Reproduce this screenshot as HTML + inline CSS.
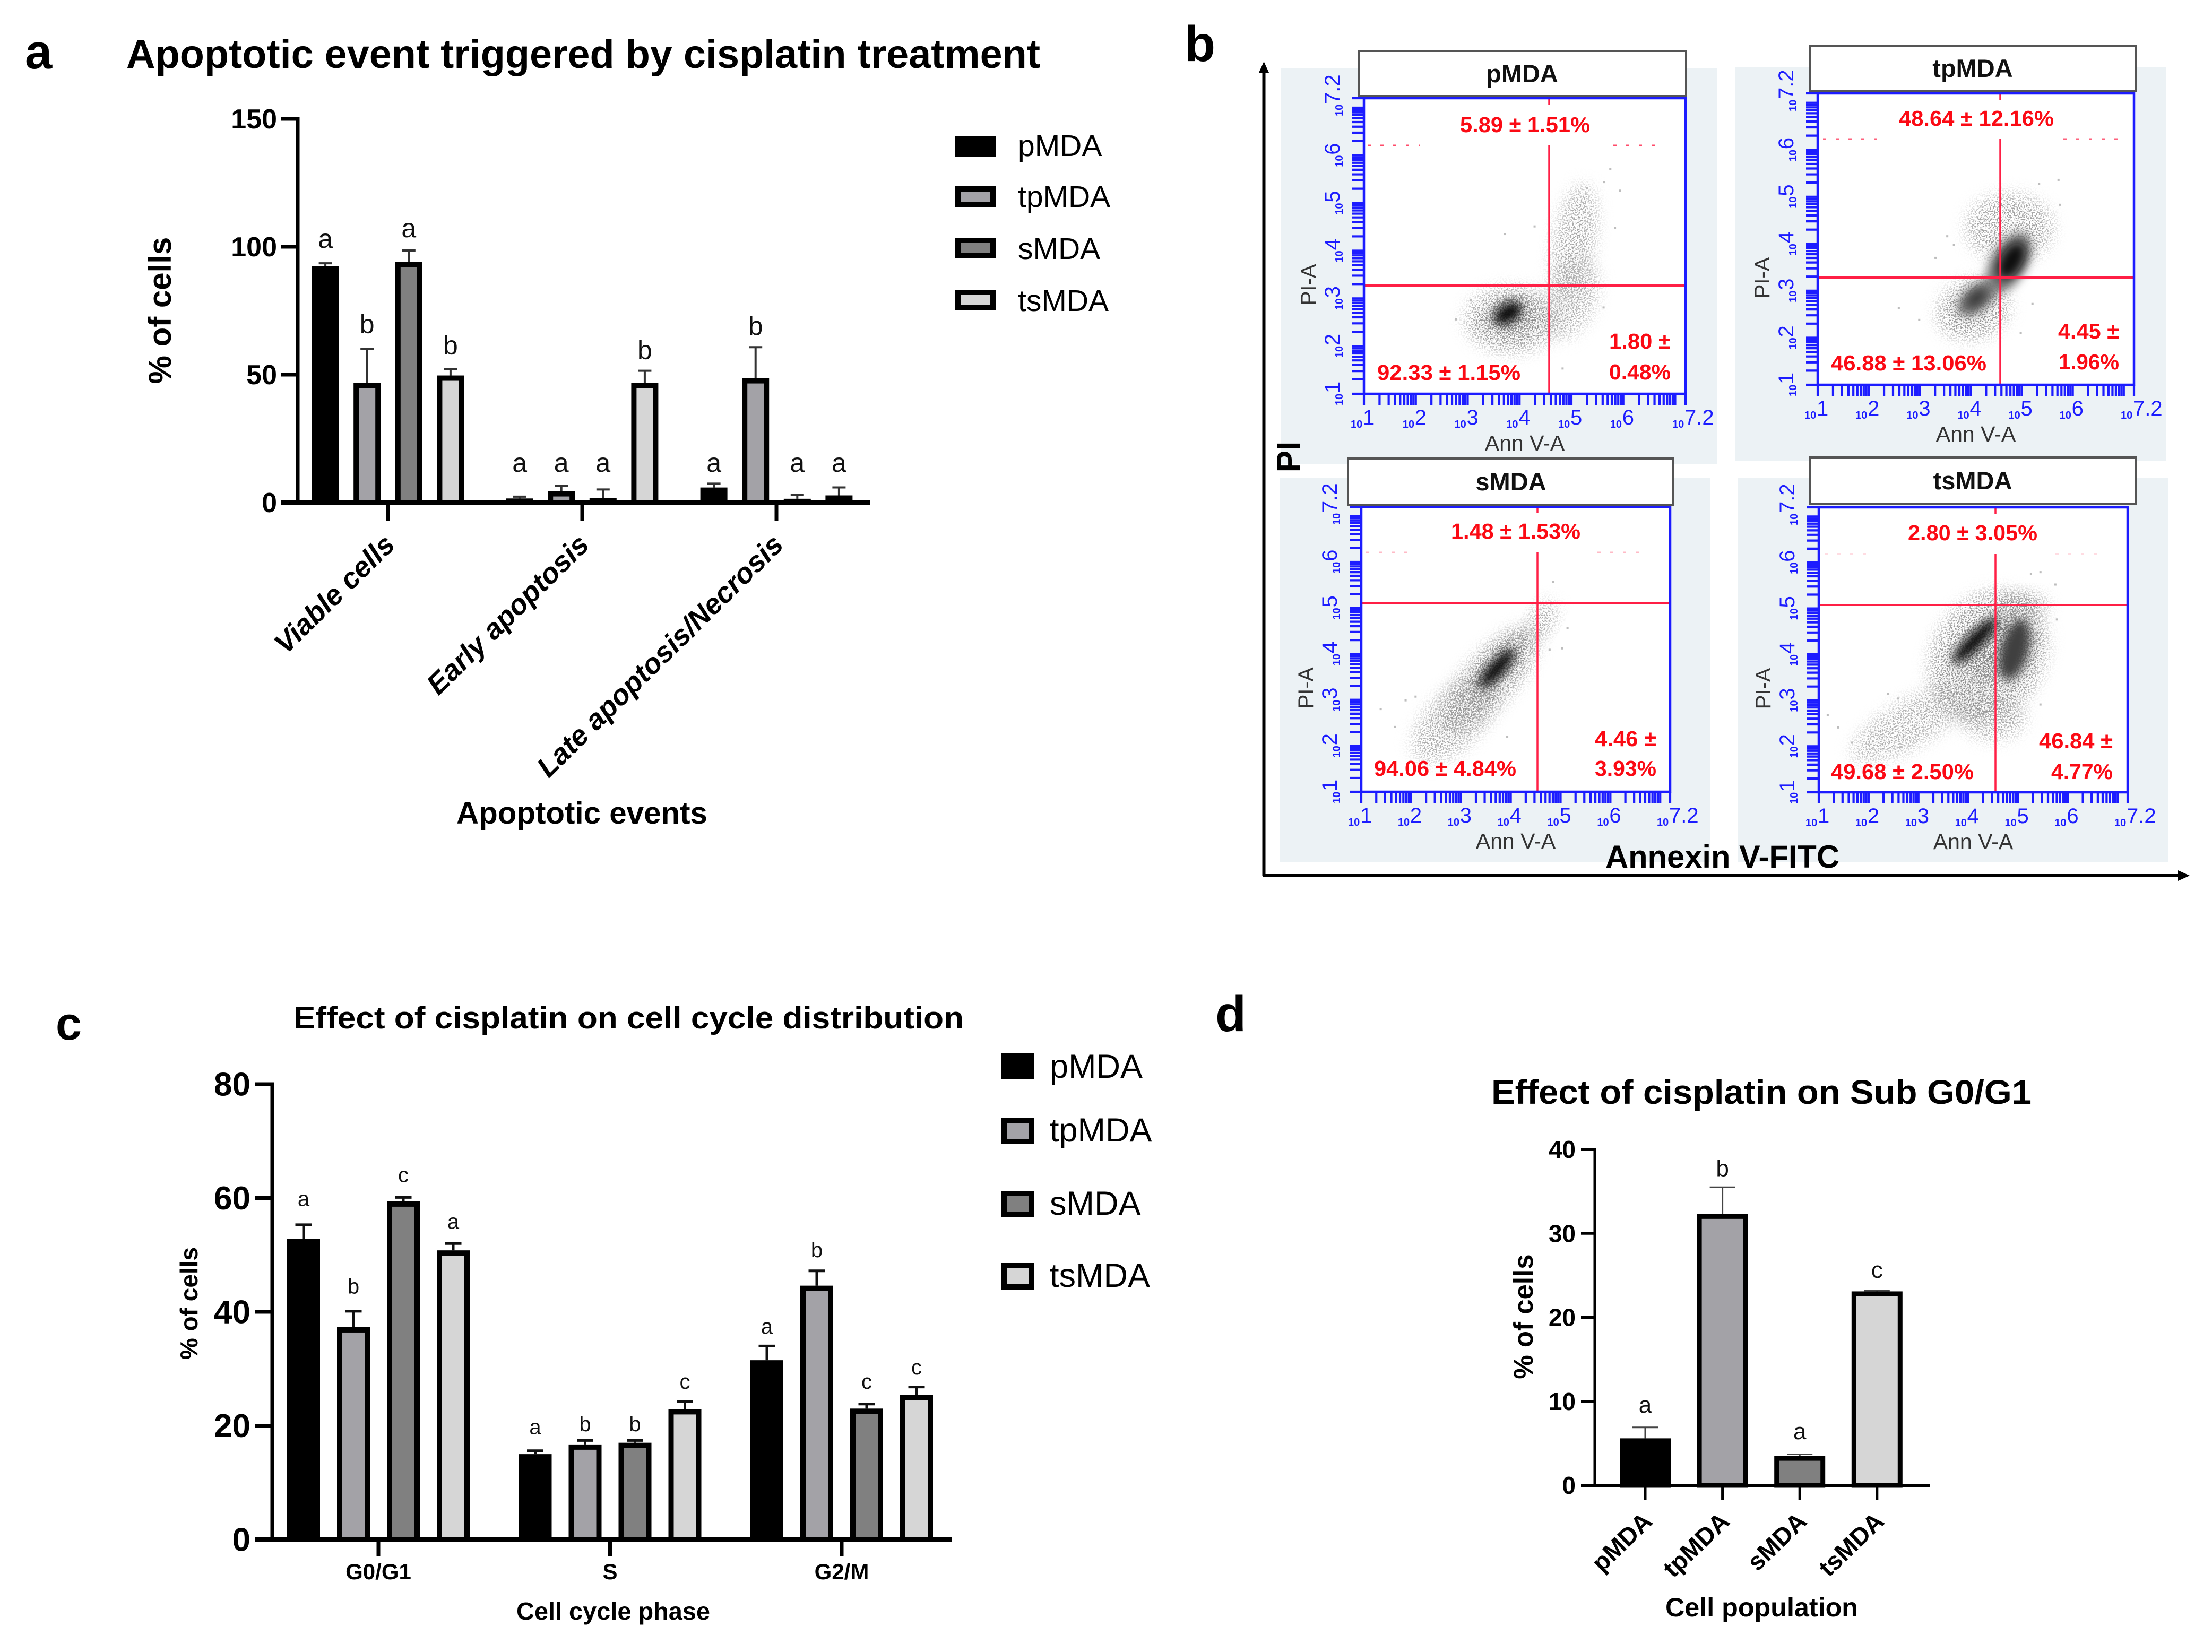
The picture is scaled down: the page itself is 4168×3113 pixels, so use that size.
<!DOCTYPE html>
<html lang="en">
<head>
<meta charset="utf-8">
<title>Apoptosis and cell cycle figure</title>
<style>
html,body{margin:0;padding:0;background:#fff}
svg{display:block}
text{font-family:"Liberation Sans",sans-serif}
.b{font-weight:bold}
.pct{font-weight:bold;font-size:41px;fill:#fb0a14}
.hdr{font-weight:bold;font-size:47px;fill:#111;text-anchor:middle}
.ax{font-size:41px;fill:#333}
</style>
</head>
<body>
<svg id="figure" xmlns="http://www.w3.org/2000/svg" width="4168" height="3113" viewBox="0 0 4168 3113">
  <defs>
    <filter id="soft" x="-40%" y="-40%" width="180%" height="180%"><feGaussianBlur stdDeviation="9"/></filter>
    <filter id="speckle" x="-40%" y="-40%" width="180%" height="180%">
      <feGaussianBlur in="SourceGraphic" stdDeviation="14" result="blurred"/>
      <feTurbulence type="fractalNoise" baseFrequency="0.38" numOctaves="1" seed="7" result="noise"/>
      <feColorMatrix in="noise" type="matrix" values="0 0 0 0 0  0 0 0 0 0  0 0 0 0 0  12 0 0 0 -6.1" result="mask"/>
      <feComposite in="blurred" in2="mask" operator="in"/>
    </filter>
  </defs>
  <rect width="4168" height="3113" fill="#fff"/>

  <!-- Panel letters and titles -->
  <text class="b" x="47" y="129" font-size="92">a</text>
  <text class="b" x="238" y="128" font-size="76" textLength="1722" lengthAdjust="spacingAndGlyphs">Apoptotic event triggered by cisplatin treatment</text>
  <text class="b" x="2232" y="115" font-size="95">b</text>
  <text class="b" x="105" y="1959" font-size="88">c</text>
  <text class="b" x="553" y="1938" font-size="58" textLength="1263" lengthAdjust="spacingAndGlyphs">Effect of cisplatin on cell cycle distribution</text>
  <text class="b" x="2290" y="1943" font-size="95">d</text>
  <text class="b" x="2810" y="2080" font-size="64" textLength="1018" lengthAdjust="spacingAndGlyphs">Effect of cisplatin on Sub G0/G1</text>

  <!-- Axis titles -->
  <text class="b" font-size="60" text-anchor="middle" transform="translate(322 585) rotate(-90)">% of cells</text>
  <text class="b" x="860" y="1552" font-size="58" textLength="473" lengthAdjust="spacingAndGlyphs">Apoptotic events</text>
  <text class="b" font-size="46" text-anchor="middle" transform="translate(372 2456) rotate(-90)">% of cells</text>
  <text class="b" x="973" y="3052" font-size="46" textLength="365" lengthAdjust="spacingAndGlyphs">Cell cycle phase</text>
  <text class="b" font-size="51" text-anchor="middle" transform="translate(2888 2481) rotate(-90)">% of cells</text>
  <text class="b" x="3138" y="3046" font-size="50" textLength="363" lengthAdjust="spacingAndGlyphs">Cell population</text>

  <!-- Legend, panel a -->
  <g>
    <g><rect x="1805" y="261" width="66" height="29" fill="#000" stroke="#000" stroke-width="10"/><text x="1918" y="294" font-size="57">pMDA</text></g>
    <g><rect x="1805" y="356" width="66" height="29" fill="#a3a2a7" stroke="#000" stroke-width="10"/><text x="1918" y="390" font-size="57">tpMDA</text></g>
    <g><rect x="1805" y="453" width="66" height="29" fill="#808080" stroke="#000" stroke-width="10"/><text x="1918" y="488" font-size="57">sMDA</text></g>
    <g><rect x="1805" y="551" width="66" height="29" fill="#d6d6d6" stroke="#000" stroke-width="10"/><text x="1918" y="586" font-size="57">tsMDA</text></g>
  </g>
  <!-- Legend, panel c -->
  <g>
    <g><rect x="1892" y="1989" width="51" height="40" fill="#000" stroke="#000" stroke-width="10"/><text x="1978" y="2031" font-size="63">pMDA</text></g>
    <g><rect x="1892" y="2111" width="51" height="40" fill="#a3a2a7" stroke="#000" stroke-width="10"/><text x="1978" y="2151" font-size="63">tpMDA</text></g>
    <g><rect x="1892" y="2249" width="51" height="40" fill="#808080" stroke="#000" stroke-width="10"/><text x="1978" y="2289" font-size="63">sMDA</text></g>
    <g><rect x="1892" y="2385" width="51" height="40" fill="#d6d6d6" stroke="#000" stroke-width="10"/><text x="1978" y="2425" font-size="63">tsMDA</text></g>
  </g>

  <g id="chart-a"></g>
  <g id="chart-c"></g>
  <g id="chart-d"></g>

  <!-- Panel b tiles -->
  <rect x="2413" y="129" width="822" height="746" fill="#ecf2f5"/>
  <rect x="3269" y="126" width="812" height="743" fill="#ecf2f5"/>
  <rect x="2412" y="901" width="811" height="723" fill="#ecf2f5"/>
  <rect x="3274" y="900" width="812" height="724" fill="#ecf2f5"/>

  <g id="flow-layer"></g>

  <!-- Panel b headers -->
  <g><rect x="2560" y="96" width="617" height="85" fill="#fff" stroke="#555" stroke-width="4"/><text class="hdr" x="2868" y="155">pMDA</text></g>
  <g><rect x="3410" y="86" width="614" height="86" fill="#fff" stroke="#555" stroke-width="4"/><text class="hdr" x="3717" y="145">tpMDA</text></g>
  <g><rect x="2540" y="864" width="613" height="87" fill="#fff" stroke="#555" stroke-width="4"/><text class="hdr" x="2847" y="924">sMDA</text></g>
  <g><rect x="3410" y="862" width="614" height="88" fill="#fff" stroke="#555" stroke-width="4"/><text class="hdr" x="3717" y="922">tsMDA</text></g>

  <!-- Quadrant percentages -->
  <g>
    <text class="pct" x="2751" y="249" textLength="245" lengthAdjust="spacingAndGlyphs">5.89 ± 1.51%</text>
    <text class="pct" x="2595" y="716" textLength="270" lengthAdjust="spacingAndGlyphs">92.33 ± 1.15%</text>
    <text class="pct" x="3032" y="657" textLength="116" lengthAdjust="spacingAndGlyphs">1.80 ±</text>
    <text class="pct" x="3032" y="715" textLength="116" lengthAdjust="spacingAndGlyphs">0.48%</text>
  </g>
  <g>
    <text class="pct" x="3578" y="237" textLength="292" lengthAdjust="spacingAndGlyphs">48.64 ± 12.16%</text>
    <text class="pct" x="3450" y="698" textLength="293" lengthAdjust="spacingAndGlyphs">46.88 ± 13.06%</text>
    <text class="pct" x="3878" y="638" textLength="115" lengthAdjust="spacingAndGlyphs">4.45 ±</text>
    <text class="pct" x="3879" y="696" textLength="114" lengthAdjust="spacingAndGlyphs">1.96%</text>
  </g>
  <g>
    <text class="pct" x="2734" y="1015" textLength="244" lengthAdjust="spacingAndGlyphs">1.48 ± 1.53%</text>
    <text class="pct" x="2589" y="1462" textLength="268" lengthAdjust="spacingAndGlyphs">94.06 ± 4.84%</text>
    <text class="pct" x="3005" y="1406" textLength="116" lengthAdjust="spacingAndGlyphs">4.46 ±</text>
    <text class="pct" x="3005" y="1462" textLength="116" lengthAdjust="spacingAndGlyphs">3.93%</text>
  </g>
  <g>
    <text class="pct" x="3595" y="1018" textLength="244" lengthAdjust="spacingAndGlyphs">2.80 ± 3.05%</text>
    <text class="pct" x="3450" y="1468" textLength="269" lengthAdjust="spacingAndGlyphs">49.68 ± 2.50%</text>
    <text class="pct" x="3842" y="1410" textLength="139" lengthAdjust="spacingAndGlyphs">46.84 ±</text>
    <text class="pct" x="3865" y="1468" textLength="116" lengthAdjust="spacingAndGlyphs">4.77%</text>
  </g>

  <!-- Panel b shared axes -->
  <path d="M2381.5 1650V128" fill="none" stroke="#000" stroke-width="6"/>
  <path d="M2381.5 116l-10 22h20z" fill="#000"/>
  <path d="M2379 1650H4108" fill="none" stroke="#000" stroke-width="6"/>
  <path d="M4126 1650l-22-10v20z" fill="#000"/>
  <text class="b" font-size="62" text-anchor="middle" transform="translate(2449 861) rotate(-90)">PI</text>
  <text class="b" x="3025" y="1635" font-size="60" textLength="441" lengthAdjust="spacingAndGlyphs">Annexin V-FITC</text>

<script>
// ---------- Panel a data ----------
const aCategories = ['Viable cells', 'Early apoptosis', 'Late apoptosis/Necrosis'];
const aTicks = [0, 50, 100, 150];
const aPMDA = [92.33, 1.6, 5.89];
const aTpMDA = [46.88, 4.45, 48.64];
const aSMDA = [94.06, 1.8, 1.48];
const aTsMDA = [49.68, 46.84, 2.8];
const aErrPMDA = [1.2, 0.7, 1.5];
const aErrTpMDA = [13.1, 2.1, 12.1];
const aErrSMDA = [4.5, 3.3, 1.5];
const aErrTsMDA = [2.4, 4.7, 3.1];
const aLetters = [['a','a','a'], ['b','a','b'], ['a','a','a'], ['b','b','a']];
const aLetterHeights = [[99.6,12,12], [66.2,12,65.5], [103.7,12,12], [57.9,56,12]];

// ---------- Panel c data ----------
const cCategories = ['G0/G1', 'S', 'G2/M'];
const cTicks = [0, 20, 40, 60, 80];
const cPMDA = [52.8, 15, 31.5];
const cTpMDA = [37.3, 16.7, 44.6];
const cSMDA = [59.4, 17, 23];
const cTsMDA = [50.8, 22.9, 25.4];
const cErrPMDA = [2.5, 0.6, 2.5];
const cErrTpMDA = [2.8, 0.7, 2.6];
const cErrSMDA = [0.7, 0.4, 0.8];
const cErrTsMDA = [1.2, 1.3, 1.4];
const cLetters = [['a','a','a'], ['b','b','b'], ['c','b','c'], ['a','c','c']];
const cLetterHeights = [[58.6,18.5,36.2], [43.2,19,49.6], [62.8,19,26.5], [54.6,26.5,29]];

// ---------- Panel d data ----------
const dCategories = ['pMDA', 'tpMDA', 'sMDA', 'tsMDA'];
const dTicks = [0, 10, 20, 30, 40];
const dValues = [5.6, 32.3, 3.5, 23.1];
const dErrors = [1.3, 3.2, 0.2, 0.1];
const dLetters = ['a', 'b', 'a', 'c'];
const dLetterHeights = [8.65, 36.8, 5.5, 24.7];

// ---------- Panel b data (log10 units): [logX, logY, major, minor, tilt, density] ----------
const flowDecades = [1, 2, 3, 4, 5, 6, 7.2];
const flowExponents = ['1', '2', '3', '4', '5', '6', '7.2'];
const cloudsPMDA = [
  [5.05, 4.15, 1.15, 0.42, -80, 0.22], [5.0, 3.0, 0.8, 0.5, -70, 0.18],
  [3.85, 2.55, 0.9, 0.68, 0, 0.3], [3.85, 2.62, 0.55, 0.42, -20, 0.42],
  [3.78, 2.69, 0.3, 0.2, -30, 1]
];
const cloudsTpMDA = [
  [4.76, 4.34, 0.85, 0.72, 0, 0.24], [4.05, 2.6, 0.72, 0.62, -20, 0.32],
  [4.12, 2.84, 0.45, 0.28, -40, 0.5], [4.75, 3.6, 0.65, 0.38, -60, 0.48],
  [4.11, 2.84, 0.22, 0.12, -40, 0.8], [4.8, 3.64, 0.38, 0.22, -60, 1]
];
const cloudsSMDA = [
  [2.9, 2.6, 1.1, 0.6, -45, 0.2], [4.62, 4.72, 0.42, 0.25, -60, 0.3],
  [3.57, 3.44, 1.35, 0.55, -48, 0.33], [3.76, 3.75, 0.85, 0.33, -48, 0.42],
  [3.73, 3.69, 0.5, 0.17, -48, 1]
];
const cloudsTsMDA = [
  [2.86, 2.51, 1.35, 0.5, -30, 0.18], [4.5, 2.64, 0.65, 0.5, 0, 0.2],
  [4.4, 3.95, 1.4, 1.2, -60, 0.32], [5.09, 5.05, 0.5, 0.28, 0, 0.36],
  [4.57, 4.13, 0.85, 0.68, -30, 0.42], [4.93, 4.1, 0.62, 0.3, -75, 0.75],
  [4.14, 4.3, 0.62, 0.17, -45, 1]
];
const strayPMDA = [[5.75,5.71],[5.63,5.44],[5.94,5.26],[5.3,5.31],[3.72,4.35],[4.29,4.51],[2.77,2.56],[3.06,2.97],[4.83,1.53],[5.62,2.81],[5.84,4.48]];
const strayTpMDA = [[5.72,5.36],[5.34,5.28],[5.75,4.83],[3.54,4.16],[3.67,3.98],[3.31,3.7],[2.59,2.63],[2.99,2.38],[5.21,2.72],[4.98,2.1]];
const straySMDA = [[4.85,5.57],[5.14,4.56],[5.03,4.12],[1.39,2.8],[1.68,2.41],[1.89,2.99],[2.09,3.07],[2.51,2.01],[3.93,2.19],[4.78,4.09]];
const strayTsMDA = [[5.45,5.79],[5.26,5.75],[5.75,5.52],[1.18,2.68],[1.39,2.41],[1.67,2.08],[2.39,3.14],[2.59,3.04],[5.45,2.91],[5.78,4.76],[2.66,1.98]];

// ---------- Helpers ----------
const NS = 'http://www.w3.org/2000/svg';
const seriesFills = ['#000000', '#a3a2a7', '#808080', '#d6d6d6'];
const seriesKeys = ['pmda', 'tpmda', 'smda', 'tsmda'];

function make(parent, tag, attrs, text) {
  const node = document.createElementNS(NS, tag);
  for (const k in attrs) node.setAttribute(k, attrs[k]);
  if (text !== undefined) node.textContent = text;
  parent.appendChild(node);
  return node;
}

function drawFrame(g, cfg, ticks) {
  const yAxis = make(g, 'line', {x1: cfg.axisX, x2: cfg.axisX, y1: cfg.y(ticks[ticks.length - 1]) - cfg.axisW / 2, y2: cfg.y(0), stroke: '#000', 'stroke-width': cfg.axisW});
  
  
  const xAxis = make(g, 'line', {x1: cfg.tickLeft, x2: cfg.axisRight, y1: cfg.y(0), y2: cfg.y(0), stroke: '#000', 'stroke-width': cfg.axisW + 1});
  
  
  ticks.forEach(function (t) {
    const tick = make(g, 'line', {x1: cfg.tickLeft, x2: cfg.axisX, y1: cfg.y(t), y2: cfg.y(t), stroke: '#000', 'stroke-width': cfg.axisW});
    
    
    const label = make(g, 'text', {x: cfg.labelRight, y: cfg.y(t) + cfg.tickFont * 0.35, 'text-anchor': 'end', 'font-size': cfg.tickFont, 'font-weight': 'bold'}, String(t));
    
    
  });
}

function drawBar(g, cfg, cx, value, err, letter, letterHeight, fill, key) {
  const top = cfg.y(value);
  const bw = cfg.border;
  const stem = make(g, 'line', {x1: cx, x2: cx, y1: top, y2: cfg.y(value + err), stroke: cfg.errColor, 'stroke-width': cfg.errW});
  
  
  const cap = make(g, 'line', {x1: cx - cfg.capW / 2, x2: cx + cfg.capW / 2, y1: cfg.y(value + err), y2: cfg.y(value + err), stroke: cfg.errColor, 'stroke-width': cfg.errW});
  
  
  const bar = make(g, 'rect', {x: cx - cfg.barW / 2 + bw / 2, y: top + bw / 2, width: cfg.barW - bw, height: Math.max(0, cfg.y(0) - top - bw / 2), fill: fill, stroke: '#000', 'stroke-width': bw});
  
  
  const txt = make(g, 'text', {x: cx, y: cfg.y(letterHeight), 'text-anchor': 'middle', 'font-size': cfg.letterFont, fill: '#111'}, letter);
  
  
}

function drawGrouped(id, cfg, cats, ticks, series, errors, letters, heights) {
  const g = document.getElementById(id);
  cats.forEach(function (cat, gi) {
    const tx = cfg.x0 + gi * cfg.gap;
    series.forEach(function (vals, si) {
      drawBar(g, cfg, tx + (si - 1.5) * cfg.step, vals[gi], errors[si][gi], letters[si][gi], heights[si][gi], seriesFills[si], seriesKeys[si]);
    });
    const tick = make(g, 'line', {x1: tx, x2: tx, y1: cfg.y(0), y2: cfg.y(0) + cfg.tickDown, stroke: '#000', 'stroke-width': cfg.axisW});
    
    
    if (cfg.rotate) {
      const label = make(g, 'text', {'text-anchor': 'end', 'font-size': cfg.catFont, 'font-weight': 'bold', 'font-style': 'italic', transform: 'translate(' + (tx + cfg.catDX) + ' ' + cfg.catY + ') rotate(-44.5)'}, cat);
      
      
    } else {
      const label = make(g, 'text', {x: tx, y: cfg.catY, 'text-anchor': 'middle', 'font-size': cfg.catFont, 'font-weight': 'bold'}, cat);
      
      
    }
  });
  drawFrame(g, cfg, ticks);
}

// ---------- Panel a ----------
const yA = function (v) { return 947 - v * 4.82; };
drawGrouped('chart-a', {
  y: yA, x0: 731, gap: 366, step: 78.6, barW: 51, border: 10, axisX: 561, axisW: 7, axisRight: 1639, tickLeft: 530,
  labelRight: 522, tickFont: 52, errColor: '#333', errW: 4, capW: 25, letterFont: 50, tickDown: 34,
  rotate: true, catFont: 54, catDX: 16, catY: 1030
}, aCategories, aTicks, [aPMDA, aTpMDA, aSMDA, aTsMDA], [aErrPMDA, aErrTpMDA, aErrSMDA, aErrTsMDA], aLetters, aLetterHeights);

// ---------- Panel c ----------
const yC = function (v) { return 2901 - v * 10.725; };
drawGrouped('chart-c', {
  y: yC, x0: 713, gap: 436.5, step: 94, barW: 62, border: 10, axisX: 513, axisW: 7, axisRight: 1793, tickLeft: 481,
  labelRight: 472, tickFont: 62, errColor: '#111', errW: 5, capW: 31, letterFont: 40, tickDown: 32,
  rotate: false, catFont: 42, catY: 2976
}, cCategories, cTicks, [cPMDA, cTpMDA, cSMDA, cTsMDA], [cErrPMDA, cErrTpMDA, cErrSMDA, cErrTsMDA], cLetters, cLetterHeights);

// ---------- Panel d ----------
const yD = function (v) { return 2799 - v * 15.825; };
(function () {
  const g = document.getElementById('chart-d');
  const cfg = {y: yD, axisX: 3005, axisW: 5, axisRight: 3637, tickLeft: 2979, labelRight: 2969, tickFont: 46,
    border: 9, barW: 96, errColor: '#444', errW: 3, capW: 48, letterFont: 44};
  dCategories.forEach(function (cat, i) {
    const cx = 3100 + i * 145.6;
    drawBar(g, cfg, cx, dValues[i], dErrors[i], dLetters[i], dLetterHeights[i], seriesFills[i], seriesKeys[i]);
    const tick = make(g, 'line', {x1: cx, x2: cx, y1: yD(0), y2: yD(0) + 28, stroke: '#000', 'stroke-width': 5});
    
    
    const label = make(g, 'text', {'text-anchor': 'end', 'font-size': 47, 'font-weight': 'bold', transform: 'translate(' + (cx + 16) + ' 2870) rotate(-44)'}, cat);
    
    
  });
  drawFrame(g, cfg, dTicks);
})();

// ---------- Panel b ----------
const BLUE = '#1c1cff';
const RED = '#ff1f45';
const flowPlots = [
  {key: 'pmda', left: 2570, right: 3176, top: 185, bottom: 742, gateX: 2919, gateY: 538, dashY: 274, dash: [[2577,2675],[3040,3126]], dashAlpha: 0.8, clouds: cloudsPMDA, stray: strayPMDA},
  {key: 'tpmda', left: 3425, right: 4021, top: 176, bottom: 725, gateX: 3769, gateY: 523, dashY: 262, dash: [[3435,3555],[3888,4002]], dashAlpha: 0.7, clouds: cloudsTpMDA, stray: strayTpMDA},
  {key: 'smda', left: 2565, right: 3147, top: 955, bottom: 1492, gateX: 2897, gateY: 1137, dashY: 1041, dash: [[2574,2667],[3010,3102]], dashAlpha: 0.3, clouds: cloudsSMDA, stray: straySMDA},
  {key: 'tsmda', left: 3427, right: 4009, top: 956, bottom: 1493, gateX: 3760, gateY: 1140, dashY: 1044, dash: [[3438,3527],[3873,3965]], dashAlpha: 0.15, clouds: cloudsTsMDA, stray: strayTsMDA}
];

function shadeFor(density) {
  const level = Math.round(205 - density * 190);
  return 'rgb(' + level + ',' + level + ',' + level + ')';
}

flowPlots.forEach(function (p) {
  const layer = document.getElementById('flow-layer');
  const g = make(layer, 'g', {});
  
  
  const w = p.right - p.left, h = p.bottom - p.top;
  const xLog = function (l) { return p.left + (l - 1) / 6.2 * w; };
  const yLog = function (l) { return p.bottom - (l - 1) / 6.2 * h; };

  const face = make(g, 'rect', {x: p.left, y: p.top, width: w, height: h, fill: '#fff'});
  
  

  p.clouds.forEach(function (c) {
    const cx = xLog(c[0]), cy = yLog(c[1]);
    const ell = make(g, 'ellipse', {cx: cx, cy: cy, rx: c[2] * w / 6.2, ry: c[3] * h / 6.2,
      fill: shadeFor(c[5]), transform: 'rotate(' + c[4] + ' ' + cx + ' ' + cy + ')',
      filter: c[5] < 0.45 ? 'url(#speckle)' : 'url(#soft)'});
    
    
  });
  p.stray.forEach(function (s) {
    const dot = make(g, 'rect', {x: xLog(s[0]) - 2, y: yLog(s[1]) - 2, width: 4, height: 4, fill: '#bdbdbd'});
    
    
  });

  // Quadrant gates
  const hGate = make(g, 'line', {x1: p.left, x2: p.right, y1: p.gateY, y2: p.gateY, stroke: RED, 'stroke-width': 4});
  
  
  const vGate = make(g, 'line', {x1: p.gateX, x2: p.gateX, y1: p.dashY, y2: p.bottom, stroke: RED, 'stroke-width': 3.5});
  
  
  const nub = make(g, 'line', {x1: p.gateX, x2: p.gateX, y1: p.top, y2: p.top + 12, stroke: RED, 'stroke-width': 3.5});
  
  
  p.dash.forEach(function (seg) {
    const d = make(g, 'line', {x1: seg[0], x2: seg[1], y1: p.dashY, y2: p.dashY, stroke: RED, 'stroke-width': 3, 'stroke-dasharray': '6 18', opacity: p.dashAlpha});
    
    
  });

  // Frame
  const frame = make(g, 'rect', {x: p.left, y: p.top, width: w, height: h, fill: 'none', stroke: BLUE, 'stroke-width': 4.5});
  
  

  // Log ticks
  for (let n = 1; n <= 7; n++) {
    for (let k = 1; k <= 9; k++) {
      const l = n + Math.log10(k);
      if (l > 7.2) continue;
      const xt = make(g, 'line', {x1: xLog(l), x2: xLog(l), y1: p.bottom, y2: p.bottom + 21, stroke: BLUE, 'stroke-width': 4.2});
      
      
      const yt = make(g, 'line', {x1: p.left - 22, x2: p.left, y1: yLog(l), y2: yLog(l), stroke: BLUE, 'stroke-width': 4.2});
      
      
    }
  }
  const endX = make(g, 'line', {x1: p.right, x2: p.right, y1: p.bottom, y2: p.bottom + 21, stroke: BLUE, 'stroke-width': 4.2});
  
  
  const endY = make(g, 'line', {x1: p.left - 22, x2: p.left, y1: p.top, y2: p.top, stroke: BLUE, 'stroke-width': 4.2});
  
  

  // Tick labels
  flowDecades.forEach(function (d, i) {
    const xPos = xLog(d) - 25, yBase = p.bottom + 64;
    const xLabel = make(g, 'text', {x: xPos, y: yBase, fill: BLUE, 'font-size': 20, 'font-weight': 'bold'}, '10');
    
    
    const xExp = make(g, 'text', {x: xPos + 23, y: yBase - 6, fill: BLUE, 'font-size': 40}, flowExponents[i]);
    
    
    const yPos = yLog(d) + (d > 7 ? 34 : 22);
    const yLabel = make(g, 'text', {fill: BLUE, 'font-size': 20, 'font-weight': 'bold', transform: 'translate(' + (p.left - 40) + ' ' + yPos + ') rotate(-90)'}, '10');
    
    
    const yExp = make(g, 'text', {fill: BLUE, 'font-size': 40, transform: 'translate(' + (p.left - 46) + ' ' + (yPos - 23) + ') rotate(-90)'}, flowExponents[i]);
    
    
  });

  // Axis captions
  const pi = make(g, 'text', {'font-size': 40, fill: '#333', 'text-anchor': 'middle', transform: 'translate(' + (p.left - 91) + ' ' + ((p.top + p.bottom) / 2 + 73) + ') rotate(-90)'}, 'PI-A');
  
  
  const ann = make(g, 'text', {x: (p.left + p.right) / 2, y: p.bottom + 107, 'font-size': 41, fill: '#333', 'text-anchor': 'middle'}, 'Ann V-A');
  
  
});
</script>
</svg>
</body>
</html>
